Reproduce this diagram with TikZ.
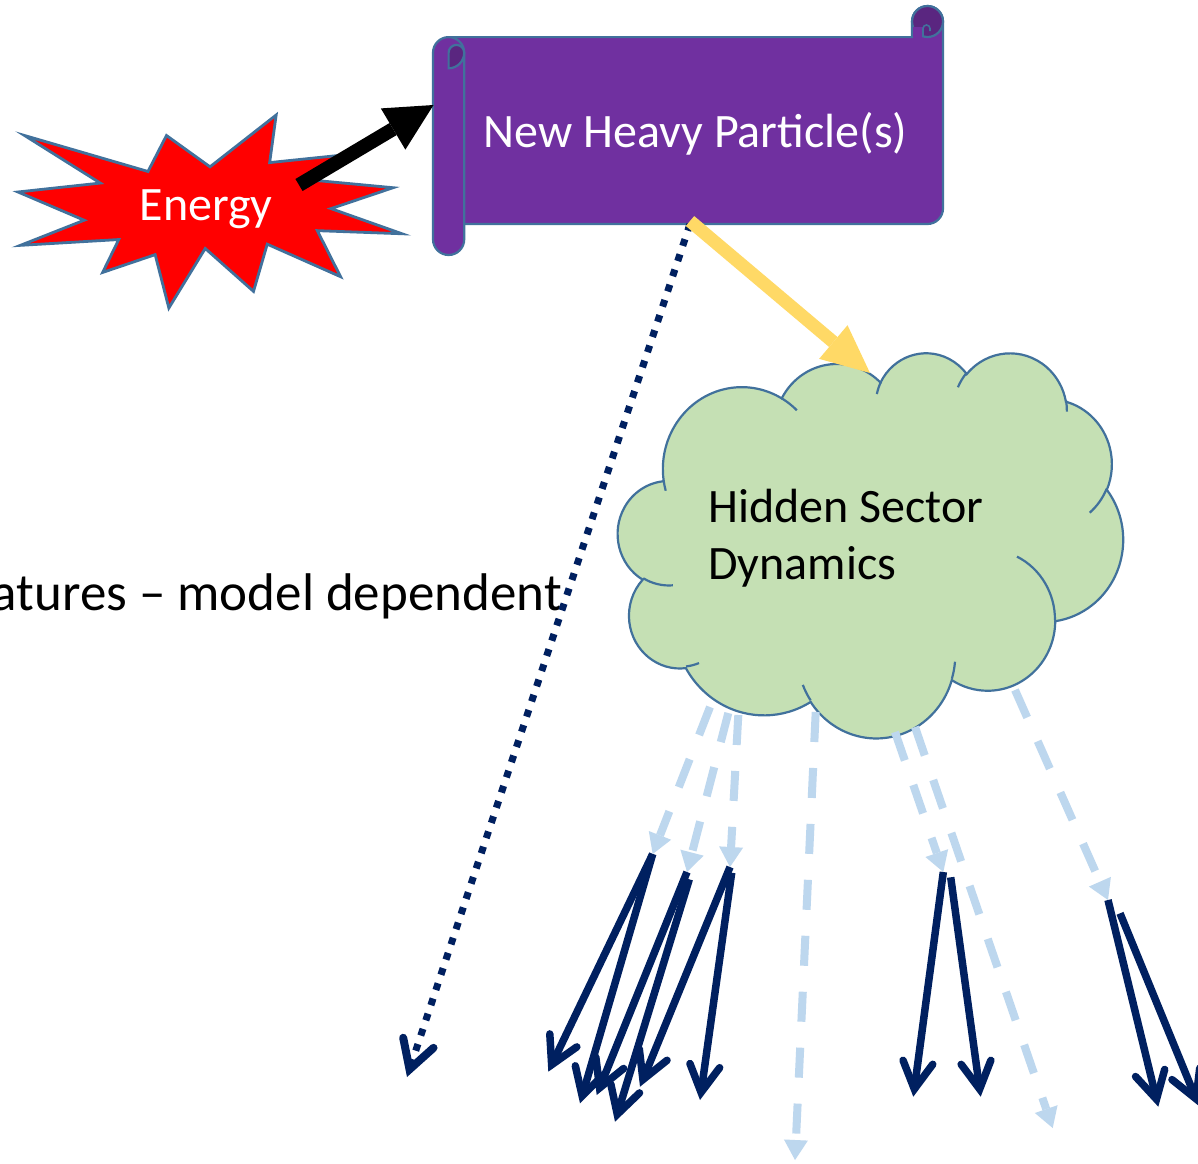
\documentclass[tikz,border=0pt]{standalone}
\usepackage{fontspec}
\setmainfont{Carlito}
\usetikzlibrary{arrows.meta}
\definecolor{purp}{HTML}{7030A0}
\definecolor{purpdark}{HTML}{5A2680}
\definecolor{strokeblue}{HTML}{41719C}
\definecolor{navyc}{HTML}{002060}
\definecolor{lblue}{HTML}{BDD7EE}
\definecolor{goldc}{HTML}{FFD966}
\definecolor{cloudgreen}{HTML}{C5E0B4}
\definecolor{burstred}{HTML}{FF0000}
\begin{document}
\begin{tikzpicture}[x=1pt,y=1pt,yscale=-1,
  declare function={vp(\a,\w,\h)=\a+Mod(atan2(\w*sin(\a),\h*cos(\a))-\a+180,360)-180;},
  outl/.style={draw=strokeblue,line width=2.2pt},
  bluedash/.style={draw=lblue,line width=8pt,dash pattern=on 30pt off 26pt,
     -{Triangle[length=20pt,width=24pt,line width=0pt]}},
  navyarrow/.style={draw=navyc,line width=7.5pt,
     -{Straight Barb[length=27pt,width=30pt,line cap=round,line join=miter]}},
  lbl/.style={inner sep=0pt,anchor=base west,font=\fontsize{48}{57}\selectfont}
]
\fill[white] (0,0) rectangle (1198,1163);
\useasboundingbox (0,0) rectangle (1198,1163);

% ---------- Energy burst ----------
\begin{scope}[shift={(18,115)},xscale=0.177778,yscale=0.0893519]
\path[fill=burstred,draw=strokeblue,line width=2.8pt,line join=miter]
 (1080,580) -- (1452.2,0) -- (1415.5,532.5) -- (1838,445.7) -- (1670.2,731.5)
 -- (2109.7,813.7) -- (1760.7,1047.5) -- (2160,1329) -- (1683.7,1294.2)
 -- (1814.5,1809.5) -- (1402,1445.7) -- (1324.7,1973.7) -- (1053.2,1493.5)
 -- (848.5,2160) -- (771.5,1562.7) -- (476.2,1761.7) -- (566.7,1393.7)
 -- (13.5,1458.7) -- (372.2,1177.5) -- (0,861.5) -- (462.7,761.7)
 -- (37,229.5) -- (731.2,632) -- (835.2,229.5) -- cycle;
\end{scope}
\node[lbl,text=white] (energy) at (139.5,220) {Energy};

% ---------- Scroll banner ----------
\path[fill=purp,outl] (448.6,37.1) -- (912,37.1) -- (912,21.5)
  arc[start angle=180,end angle=360,radius=15.5] -- (943,208.4)
  arc[start angle=0,end angle=90,radius=15.6] -- (448.6,224) -- cycle;
\path[fill=purpdark,outl] (927.5,21.5) circle[radius=15.5];
\fill[purp] (913.1,27) rectangle (923,36.5);
\draw[strokeblue,line width=2.2pt] (912,21.5) -- (912,37.1);
\draw[strokeblue,line width=1.6pt] (923,37.1) -- (923,28.5)
  arc[start angle=180,end angle=360,radius=3.5] -- (930,31);
\path[fill=purp,outl] (433,52.7) arc[start angle=180,end angle=360,radius=15.6]
  -- (464.2,239.4) arc[start angle=0,end angle=180,radius=15.6] -- cycle;
\path[fill=purpdark,outl] (448.6,68.3) -- (448.6,52.7)
  arc[start angle=180,end angle=360,radius=7.8]
  arc[start angle=0,end angle=90,radius=15.6] -- cycle;
\node[lbl,text=white] (nhp) at (483.5,147) {New Heavy Particle(s)};

\coordinate (bannerleft) at (433.5,105);
\coordinate (bannerbot) at (690,221);
\coordinate (bannerbot2) at (690,224);

% ---------- Black arrow ----------
\coordinate (energytip) at (299,185);
\draw[black,line width=14pt,-{Triangle[length=47pt,width=48pt,line width=0pt]}]
  (energytip) -- (bannerleft);

% ---------- Side text ----------
\node[inner sep=0pt,anchor=base east,font=\fontsize{53}{60}\selectfont] (feat)
  at (562,610) {atures – model dependent};

% ---------- Dotted arrow ----------
\coordinate (dottip) at (407,1077);
\draw[navyc,line width=7pt,dash pattern=on 7pt off 9pt,
  -{Straight Barb[length=28pt,width=32pt,line width=8pt,line cap=round,line join=miter]}]
  (bannerbot2) -- (dottip);

% ---------- Cloud ----------
\begin{scope}[shift={(618,352)},xscale=0.116898,yscale=0.0891204]
\path[fill=cloudgreen,draw=strokeblue,line width=2.2pt] (390,1437)
 arc[start angle={vp(-190.4875,675.3,919)},end angle={vp(-66.707,675.3,919)},x radius=675.3pt,y radius=919pt]
 arc[start angle={vp(-144.1024,533.3,726.7)},end angle={vp(-54.1572,533.3,726.7)},x radius=533.3pt,y radius=726.7pt]
 arc[start angle={vp(-145.8079,436.5,594.5)},end angle={vp(-46.0849,436.5,594.5)},x radius=436.5pt,y radius=594.5pt]
 arc[start angle={vp(-130.9861,485.7,659.5)},end angle={vp(-13.7444,485.7,659.5)},x radius=485.7pt,y radius=659.5pt]
 arc[start angle={vp(-78.7089,533.3,727.3)},end angle={vp(30.318,533.3,727.3)},x radius=533.3pt,y radius=727.3pt]
 arc[start angle={vp(-46.2673,677.5,922)},end angle={vp(84.0017,677.5,922)},x radius=677.5pt,y radius=922pt]
 arc[start angle={vp(0.625,578.5,786.7)},end angle={vp(114.6583,578.5,786.7)},x radius=578.5pt,y radius=786.7pt]
 arc[start angle={vp(22.4516,675.2,921.5)},end angle={vp(137.6242,675.2,921.5)},x radius=675.2pt,y radius=921.5pt]
 arc[start angle={vp(66.2426,772,1054.3)},end angle={vp(141.9536,772,1054.3)},x radius=772pt,y radius=1054.3pt]
 arc[start angle={vp(-274.9421,436,591.8)},end angle={vp(-128.2065,436,591.8)},x radius=436pt,y radius=591.8pt]
 arc[start angle={vp(-246.8285,434.5,594.5)},end angle={vp(-94.3096,434.5,594.5)},x radius=434.5pt,y radius=594.5pt]
 -- cycle;
\begin{scope}[draw=strokeblue,line width=2.2pt]
\draw (469.3,2617.7) arc[start angle={vp(86.742,434.5,594.5)},end angle={vp(113.1715,434.5,594.5)},x radius=434.5pt,y radius=594.5pt];
\draw (692.8,3489.9) arc[start angle={vp(73.6105,436,591.8)},end angle={vp(85.058,436,591.8)},x radius=436pt,y radius=591.8pt];
\draw (1647.8,3909) arc[start angle={vp(137.6242,675.2,921.5)},end angle={vp(151.7053,675.2,921.5)},x radius=675.2pt,y radius=921.5pt];
\draw (2882.7,3475.1) arc[start angle={vp(6.4533,675.2,921.5)},end angle={vp(22.4517,675.2,921.5)},x radius=675.2pt,y radius=921.5pt];
\draw (3412.9,2295.4) arc[start angle={vp(-70.2924,578.5,786.7)},end angle={vp(0.625,578.5,786.7)},x radius=578.5pt,y radius=786.7pt];
\draw (4179.8,1535.4) arc[start angle={vp(30.318,533.3,727.3)},end angle={vp(58.0695,533.3,727.3)},x radius=533.3pt,y radius=727.3pt];
\draw (3832.4,542.6) arc[start angle={vp(-13.7443,485.7,659.5)},end angle={vp(1.1201,485.7,659.5)},x radius=485.7pt,y radius=659.5pt];
\draw (2907.8,395.2) arc[start angle={vp(-149.1815,485.7,659.5)},end angle={vp(-130.9856,485.7,659.5)},x radius=485.7pt,y radius=659.5pt];
\draw (2214.1,472) arc[start angle={vp(-163.4943,436.5,594.5)},end angle={vp(-145.8062,436.5,594.5)},x radius=436.5pt,y radius=594.5pt];
\draw (1400,519.2) arc[start angle={vp(-66.707,675.3,919)},end angle={vp(-54.3876,675.3,919)},x radius=675.3pt,y radius=919pt];
\draw (390,1437) arc[start angle={vp(169.5125,675.3,919)},end angle={vp(159.5,675.3,919)},x radius=675.3pt,y radius=919pt];
\end{scope}
\end{scope}
\node[lbl] (hs1) at (708,522) {Hidden Sector};
\node[lbl] (hs2) at (708,579) {Dynamics};

% ---------- Yellow arrow ----------
\coordinate (cloudtop) at (870,373);
\draw[goldc,line width=13pt,-{Triangle[length=48pt,width=44pt,line width=0pt]}]
  (bannerbot) -- (cloudtop);

% ---------- Light blue dashed arrows ----------
\coordinate (s1) at (710,707);   \coordinate (A) at (652.7,854);
\coordinate (s2) at (728.3,713); \coordinate (B) at (687,872);
\coordinate (s3) at (738.3,715); \coordinate (C) at (730,867);
\coordinate (s4) at (815.7,712); \coordinate (F) at (795,1160);
\coordinate (s5) at (895,732);   \coordinate (D) at (943.3,872);
\coordinate (s6) at (915,727);   \coordinate (G) at (1052.7,1128);
\coordinate (s7) at (1015,690);  \coordinate (E) at (1108,900);
\foreach \s/\t in {s1/A,s2/B,s3/C,s4/F,s5/D,s6/G,s7/E}
  \draw[bluedash] (\s) -- (\t);

% ---------- Navy arrows ----------
\coordinate (A1) at (548.3,1071.7);
\coordinate (A2) at (580,1103.3);
\coordinate (B0) at (689.3,879.3);
\coordinate (B1) at (596.7,1095);
\coordinate (B2) at (615,1121.7);
\coordinate (C0) at (731.7,872.7);
\coordinate (C1) at (640,1086.7);
\coordinate (C2) at (700,1100);
\coordinate (D0) at (950.7,877.3);
\coordinate (D1) at (913.3,1096.7);
\coordinate (D2) at (980.7,1096.7);
\coordinate (E0) at (1120,913.3);
\coordinate (E1) at (1158.3,1106.7);
\coordinate (E2) at (1199,1106);
\draw[navyarrow] (A) -- (A1);
\draw[navyarrow] (A) -- (A2);
\draw[navyarrow] (B) -- (B1);
\draw[navyarrow] (B0) -- (B2);
\draw[navyarrow] (C) -- (C1);
\draw[navyarrow] (C0) -- (C2);
\draw[navyarrow] (D) -- (D1);
\draw[navyarrow] (D0) -- (D2);
\draw[navyarrow] (E) -- (E1);
\draw[navyarrow] (E0) -- (E2);
\end{tikzpicture}
\end{document}
